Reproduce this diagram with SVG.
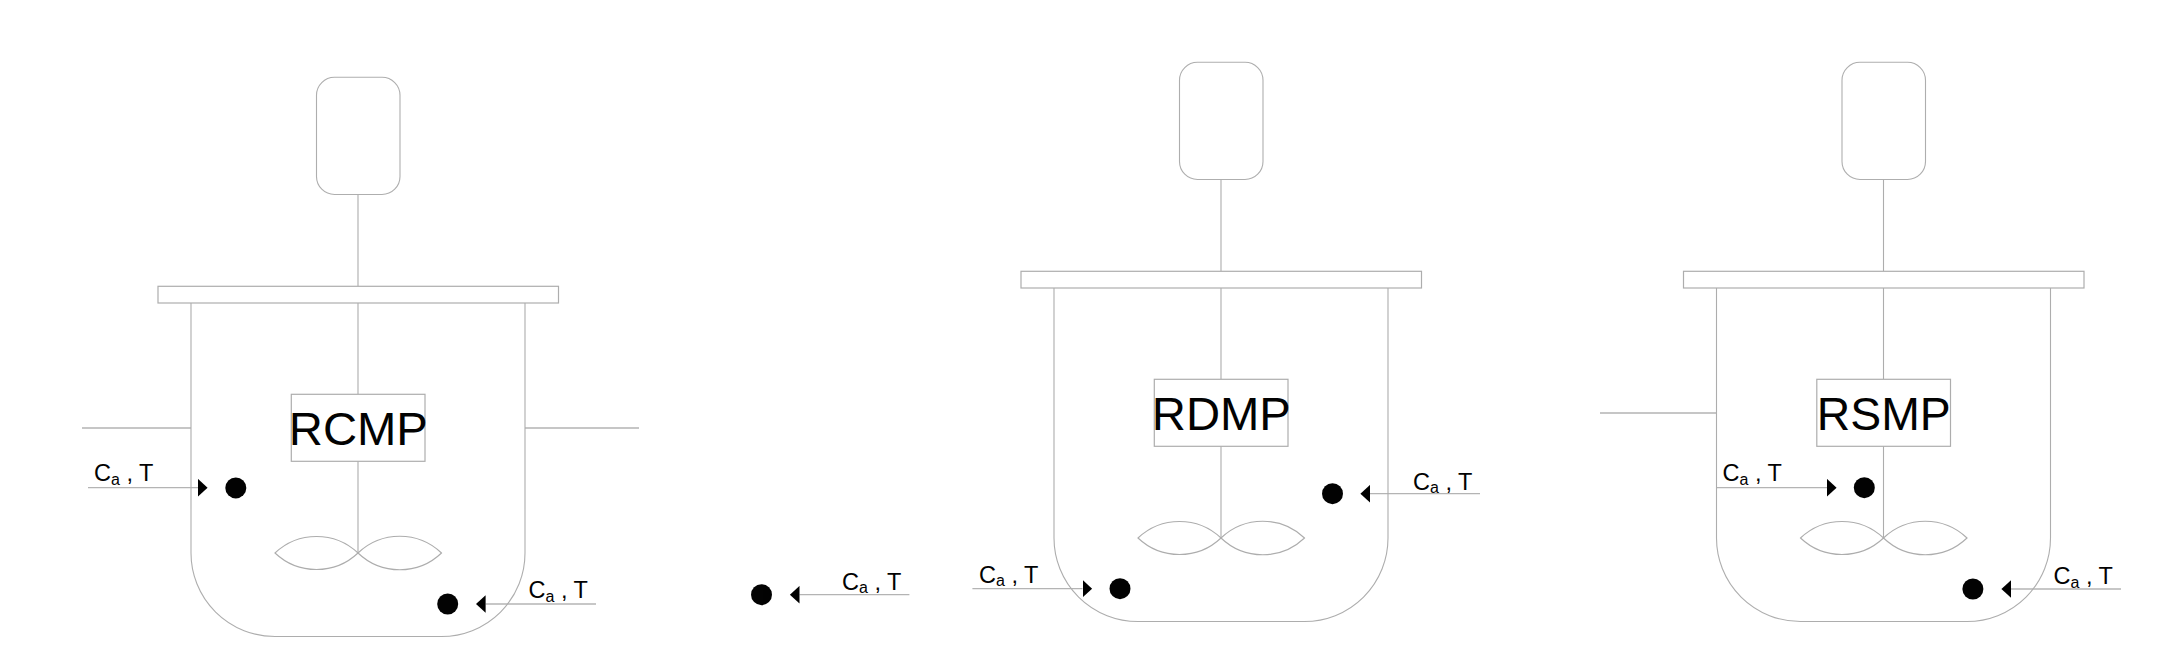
<svg xmlns="http://www.w3.org/2000/svg" width="2180" height="669" viewBox="0 0 2180 669">
<style>
.l{fill:none;stroke:#adadad;stroke-width:1.1}
.w{fill:#fff;stroke:#adadad;stroke-width:1.2}
.s{fill:none;stroke:#b4b4b4;stroke-width:1.3}
.d{fill:#000}
.g{opacity:.99}
text{font-family:"Liberation Sans",Arial,sans-serif;fill:#000}
.n{font-size:47px;text-anchor:middle}
.c{font-size:23.5px}
.c tspan.a{font-size:16px}
</style>
<defs>
<marker id="ah" markerUnits="userSpaceOnUse" markerWidth="11" markerHeight="18" refX="0" refY="9" orient="auto"><path d="M0 .2L9.6 9L0 17.8Z" fill="#000"/></marker>
<g id="vessel">
<rect class="l" x="316.5" y="77.3" width="83.5" height="117.2" rx="18" ry="18"/>
<rect class="w" x="158" y="286.3" width="400.5" height="16.7"/>
<path class="l" d="M191 303V553A84 83.5 0 0 0 275 636.5H441.5A83.5 83.5 0 0 0 525 553V303"/>
<rect class="w" x="291.3" y="394.3" width="133.7" height="67"/>
<path class="l" d="M275 553A60.4 60.4 0 0 1 358 553A60.4 60.4 0 0 1 441.5 553A60.4 60.4 0 0 1 358 553A60.4 60.4 0 0 1 275 553Z"/>
</g>
</defs>
<g id="connectors">
<path class="l" d="M358 194.5V286M358 303V394M358 461V553"/>
<path class="l" d="M1221 179.5V271M1221 288V379M1221 446V538"/>
<path class="l" d="M1883.5 179.5V271M1883.5 288V379M1883.5 446V538"/>
<path class="s" d="M82 428H191M525 428H639M1600 413H1716"/>
<path class="s" marker-end="url(#ah)" d="M88 487.7H198"/>
<path class="s" marker-end="url(#ah)" d="M596 604H485.6"/>
<path class="s" marker-end="url(#ah)" d="M909.4 594.7H799.5"/>
<path class="s" marker-end="url(#ah)" d="M972.4 588.7H1082.5"/>
<path class="s" marker-end="url(#ah)" d="M1480 493.7H1370"/>
<path class="s" marker-end="url(#ah)" d="M1716.4 487.7H1827"/>
<path class="s" marker-end="url(#ah)" d="M2121 589H2011"/>
</g>
<g id="rcmp" class="g">
<use href="#vessel"/>
<text class="n" x="358.3" y="445" textLength="139" lengthAdjust="spacingAndGlyphs">RCMP</text>
</g>
<g id="rdmp" class="g" transform="translate(863 -15)">
<use href="#vessel"/>
<text class="n" x="358.3" y="445" textLength="139" lengthAdjust="spacingAndGlyphs">RDMP</text>
</g>
<g id="rsmp" class="g" transform="translate(1525.5 -15)">
<use href="#vessel"/>
<text class="n" x="358.3" y="445" textLength="134" lengthAdjust="spacingAndGlyphs">RSMP</text>
</g>
<g id="sensor-1" class="g"><circle class="d" cx="235.8" cy="487.9" r="10.5"/><text class="c" x="94" y="481.2">C<tspan class="a" dy="3.3">a</tspan><tspan dy="-3.3"> , T</tspan></text></g>
<g id="sensor-2" class="g"><circle class="d" cx="447.7" cy="604" r="10.5"/><text class="c" x="528.5" y="598.2">C<tspan class="a" dy="3.3">a</tspan><tspan dy="-3.3"> , T</tspan></text></g>
<g id="sensor-3" class="g"><circle class="d" cx="761.5" cy="594.7" r="10.5"/><text class="c" x="842" y="589.5">C<tspan class="a" dy="3.3">a</tspan><tspan dy="-3.3"> , T</tspan></text></g>
<g id="sensor-4" class="g"><circle class="d" cx="1120" cy="588.7" r="10.5"/><text class="c" x="979" y="582.5">C<tspan class="a" dy="3.3">a</tspan><tspan dy="-3.3"> , T</tspan></text></g>
<g id="sensor-5" class="g"><circle class="d" cx="1332.5" cy="493.7" r="10.5"/><text class="c" x="1413" y="489.5">C<tspan class="a" dy="3.3">a</tspan><tspan dy="-3.3"> , T</tspan></text></g>
<g id="sensor-6" class="g"><circle class="d" cx="1864.3" cy="487.7" r="10.5"/><text class="c" x="1722.5" y="481.2">C<tspan class="a" dy="3.3">a</tspan><tspan dy="-3.3"> , T</tspan></text></g>
<g id="sensor-7" class="g"><circle class="d" cx="1972.9" cy="589" r="10.5"/><text class="c" x="2053.5" y="584.2">C<tspan class="a" dy="3.3">a</tspan><tspan dy="-3.3"> , T</tspan></text></g>
</svg>
